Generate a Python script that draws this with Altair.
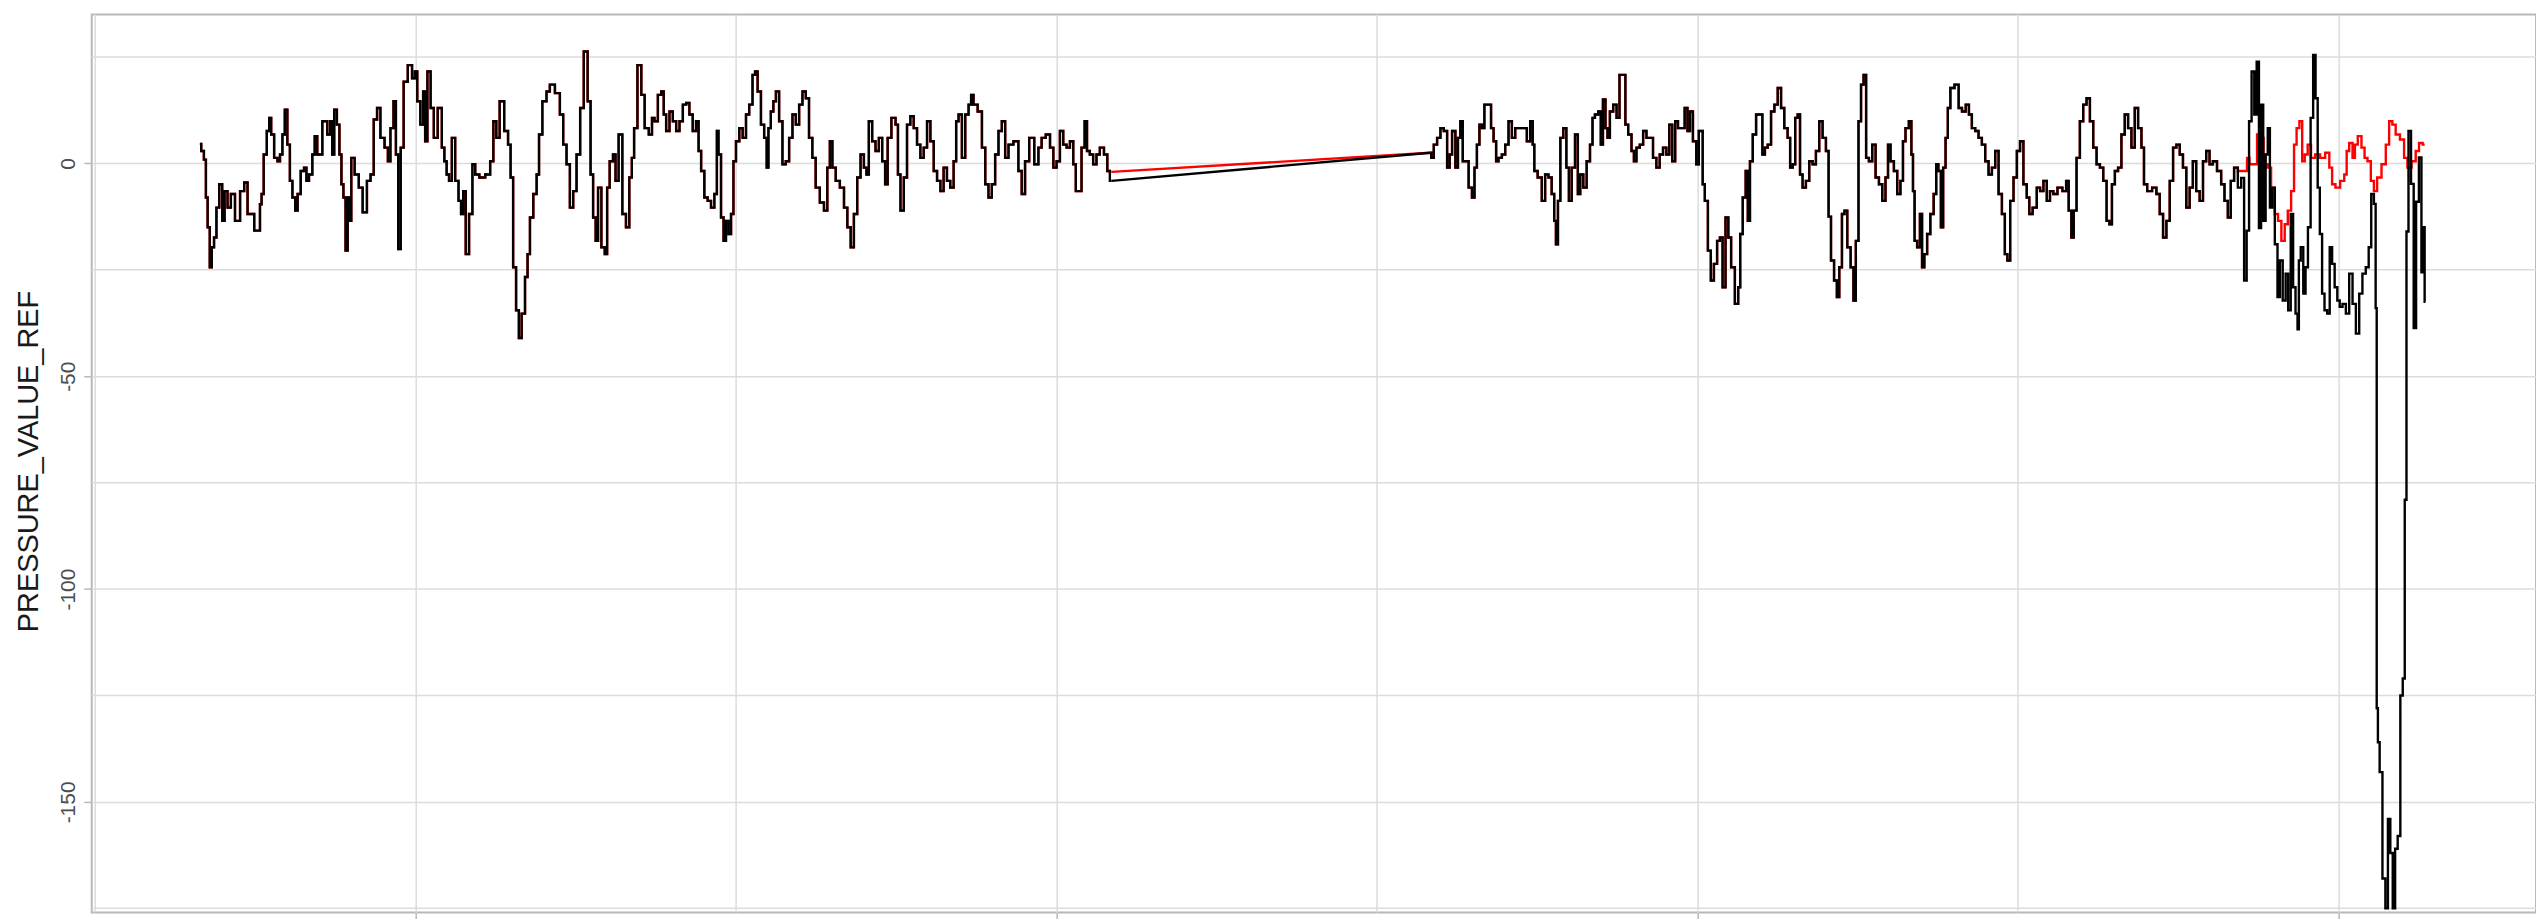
import altair as alt
import pandas as pd

# ---- data (x = hours relative to the first day tick, y = pressure) ----
a_hours = [-8.08, -7.98, -7.88, -7.83, -7.75, -7.67, -7.60, -7.50, -7.42, -7.29, -7.20, -7.11, -6.98, -6.86, -6.67,
           -6.48, -6.36, -6.23, -5.86, -5.80, -5.74, -5.64, -5.51, -5.46, -5.36, -5.24, -5.11, -5.05, -4.93, -4.87,
           -4.74, -4.68, -4.55, -4.47, -4.37, -4.24, -4.12, -4.06, -3.93, -3.81, -3.75, -3.62, -3.37, -3.25, -3.15,
           -3.10, -3.00, -2.90, -2.81, -2.75, -2.66, -2.59, -2.50, -2.44, -2.38, -2.19, -2.07, -1.90, -1.75, -1.63,
           -1.51, -1.38, -1.26, -1.07, -1.01, -0.88, -0.78, -0.70, -0.61, -0.51, -0.39, -0.20, -0.07, 0.01, 0.11,
           0.24, 0.32, 0.39, 0.49, 0.63, 0.73, 0.92, 1.04, 1.11, 1.21, 1.29, 1.42, 1.54, 1.67, 1.73,
           1.83, 1.92, 2.08, 2.17, 2.29, 2.48, 2.73, 2.85, 2.97, 3.07, 3.22, 3.41, 3.51, 3.60, 3.70,
           3.82, 3.91, 4.03, 4.16, 4.22, 4.34, 4.47, 4.59, 4.65, 4.84, 4.96, 5.09, 5.34, 5.46, 5.59,
           5.71, 5.84, 5.96, 6.09, 6.23, 6.36, 6.52, 6.58, 6.71, 6.77, 6.89, 7.02, 7.14, 7.20, 7.33,
           7.45, 7.52, 7.68, 7.80, 7.95, 8.05, 8.14, 8.22, 8.39, 8.51, 8.64,
           8.82, 8.88, 9.01, 9.13, 9.26, 9.32, 9.44, 9.57, 9.69, 9.82, 9.94, 10.07, 10.19, 10.31, 10.44,
           10.56, 10.63, 10.75, 10.87, 11.00, 11.12, 11.25, 11.31, 11.37, 11.50, 11.56, 11.68, 11.75, 11.87, 11.93,
           12.06, 12.18, 12.31, 12.43, 12.55, 12.68, 12.74, 12.87, 12.99, 13.11, 13.18, 13.24, 13.36, 13.43, 13.55,
           13.67, 13.80, 13.92, 14.05, 14.17, 14.30, 14.42, 14.55, 14.67, 14.79, 14.92, 15.04, 15.23, 15.35, 15.48,
           15.54, 15.67, 15.79, 15.98, 16.10, 16.23, 16.35, 16.47, 16.60, 16.72, 16.85, 16.91, 17.03, 17.16, 17.28,
           17.41, 17.53, 17.63, 17.72, 17.91, 18.03, 18.09, 18.22, 18.34, 18.46, 18.59, 18.71, 18.84, 18.96, 19.09,
           19.21, 19.34, 19.46, 19.59, 19.71, 19.83, 19.96, 20.08, 20.21, 20.27, 20.39, 20.52, 20.64, 20.77, 20.83,
           20.95, 21.14, 21.27, 21.39, 21.51, 21.64, 21.76, 21.89, 22.01, 22.14, 22.26, 22.51, 22.63, 22.76, 22.88,
           23.07, 23.26, 23.38, 23.50, 23.69, 23.82, 23.94, 24.06, 24.19, 24.31, 24.44, 24.56, 24.69, 24.75, 24.87,
           25.00, 25.10, 25.18, 25.31, 25.43, 25.56, 25.68, 25.87, 25.93]
a_values = [4.6, 2.9, 0.9, -8.0, -15.0, -24.4, -19.7, -17.4, -10.4, -4.9, -13.5, -6.5, -10.4, -7.2, -13.5,
            -6.5, -4.5, -11.9, -15.8, -9.6, -7.2, 2.1, 7.6, 10.7, 6.8, 1.3, 0.5, 2.1, 6.8, 12.6,
            4.4, -4.1, -8.0, -11.1, -7.2, -1.8, -1.0, -4.1, -2.6, 2.1, 6.4, 2.1, 9.9, 6.8, 9.9,
            2.1, 12.6, 9.1, 2.1, -4.9, -8.0, -20.5, -8.0, -13.5, 1.3, -2.6, -5.7, -11.5, -4.1, -2.6,
            10.3, 13.0, 6.0, 3.7, 0.5, 8.3, 14.6, 2.1, -20.1, 3.7, 19.2, 23.1, 20.0, 21.6, 14.6,
            9.1, 16.9, 5.2, 21.6, 13.0, 6.0, 13.0, 3.7, 0.5, -2.6, -4.1, 6.0, -4.1, -8.8, -11.9,
            -6.5, -21.3, -11.9, -0.2, -2.6, -3.3, -2.6, 0.5, 9.9, 6.0, 14.6, 7.6, 4.4, -3.3, -24.4,
            -34.5, -41.0, -35.3, -26.7, -21.3, -12.7, -7.2, -2.6, 6.8, 14.6, 16.9, 18.5, 16.5, 11.5, 4.4,
            -0.2, -10.4, -6.5, 2.1, 13.0, 26.3, 14.6, -2.6, -12.7, -18.2, -5.7, -19.7, -21.3, -5.7, 0.5,
            2.1, -4.1, 6.8, -11.9, -15.0, -3.3, 1.3, 8.3, 23.1, 16.1, 8.3,
            6.8, 10.7, 9.9, 16.1, 16.9, 11.5, 7.6, 12.2, 9.9, 7.6, 9.9, 13.8, 14.2, 11.5, 7.6,
            9.9, 2.9, -1.8, -8.0, -8.8, -10.4, -7.2, 7.6, 2.1, -12.7, -18.2, -13.5, -16.6, -11.9, 0.5,
            5.2, 8.3, 6.0, 11.5, 13.8, 20.8, 21.6, 16.9, 9.1, 6.0, -1.0, 8.3, 12.2, 14.6, 16.9,
            9.9, -0.2, 0.5, 6.0, 11.5, 9.1, 13.8, 16.9, 15.3, 6.0, 1.3, -5.7, -9.2, -11.1, -1.0,
            5.2, -1.0, -4.1, -5.7, -10.4, -15.0, -19.7, -11.9, -3.3, 2.1, -1.0, -2.6, 9.9, 5.2, 2.9,
            6.0, 0.5, -4.9, 6.0, 10.7, 9.1, -2.6, -11.1, -3.3, 9.1, 11.1, 8.3, 4.4, 1.3, 3.7,
            9.9, 5.2, -1.8, -4.1, -6.5, -1.0, -4.1, -5.7, 0.5, 9.9, 11.5, 1.3, 11.5, 13.8, 16.1,
            13.8, 12.2, 3.7, -4.9, -8.0, -4.9, 2.1, 7.6, 9.9, 1.3, 4.4, 5.2, -1.8, -7.2, 0.5,
            6.0, -0.2, 3.7, 6.0, 6.8, 3.7, -1.0, 0.5, 7.6, 4.4, 3.7, 5.2, -0.2, -6.5, -6.5,
            3.7, 9.9, 2.9, 2.1, -0.2, 2.1, 3.7, 2.1, -1.8]

gap_hour = 26.06
gap_black_value = -4.1
gap_red_value = -2.0

b_hours = [38.00, 38.06, 38.19, 38.31, 38.44, 38.56, 38.69, 38.75, 38.87, 39.00, 39.06, 39.18, 39.24, 39.37, 39.49,
           39.62, 39.68, 39.80, 39.87, 39.99, 40.05, 40.24, 40.30, 40.43, 40.49, 40.61, 40.74, 40.86, 40.99, 41.11,
           41.24, 41.55, 41.67, 41.80, 41.86, 41.92, 42.11, 42.23, 42.36, 42.48, 42.60, 42.67, 42.73, 42.82, 42.91,
           43.04, 43.14, 43.23, 43.35, 43.48, 43.56, 43.66, 43.79, 43.91, 44.04, 44.10, 44.22, 44.35, 44.41, 44.51,
           44.60, 44.66, 44.78, 44.91, 45.03, 45.13, 45.26, 45.34, 45.47, 45.59, 45.65, 45.78, 45.90, 46.03, 46.15,
           46.27, 46.40, 46.52, 46.65, 46.77, 46.90, 46.99, 47.12, 47.21, 47.33, 47.46, 47.58, 47.67, 47.77, 47.89,
           48.02, 48.08, 48.17, 48.22, 48.33, 48.45, 48.55, 48.68, 48.79, 48.89, 48.99, 49.11, 49.20, 49.32, 49.48,
           49.57, 49.63, 49.76, 49.85, 49.92, 50.01, 50.13, 50.26, 50.38, 50.48, 50.57, 50.69, 50.82, 50.94, 51.07,
           51.19, 51.31, 51.44, 51.50, 51.63, 51.69, 51.81, 51.87, 52.00, 52.12, 52.25, 52.37, 52.50, 52.62, 52.75,
           52.87, 52.95, 53.05, 53.18, 53.26, 53.36, 53.46, 53.55, 53.67, 53.80, 53.88, 53.98, 54.08, 54.17, 54.27,
           54.36, 54.48, 54.61, 54.73, 54.86, 54.98, 55.10, 55.17, 55.29, 55.42, 55.54, 55.66, 55.73, 55.85, 55.98,
           56.04, 56.10, 56.16, 56.29, 56.37, 56.45, 56.54, 56.66, 56.78, 56.91, 56.97, 57.07, 57.16, 57.24, 57.34,
           57.41, 57.53, 57.72, 57.84, 57.97, 58.12, 58.21, 58.34, 58.46, 58.59, 58.71, 58.84, 58.96, 59.09, 59.21,
           59.34, 59.46, 59.56, 59.65, 59.77, 59.90, 60.02, 60.14, 60.27, 60.39, 60.46, 60.64, 60.77, 60.89, 61.02,
           61.14, 61.26, 61.39, 61.57, 61.76, 61.85, 61.95, 62.05, 62.13, 62.26, 62.38, 62.51, 62.63, 62.76, 62.88,
           63.01, 63.13, 63.26, 63.38, 63.47, 63.57, 63.69, 63.81, 63.94, 64.06, 64.19, 64.31, 64.44, 64.56, 64.69,
           64.75, 64.93, 65.12, 65.25, 65.37, 65.50, 65.62, 65.75, 65.87, 66.00, 66.12, 66.24, 66.37, 66.49, 66.61,
           66.74, 66.87, 66.99, 67.11, 67.24, 67.36, 67.55, 67.67, 67.80, 67.92, 68.02, 68.17]
b_values = [2.5, 1.3, 4.4, 6.0, 8.3, 7.6, -1.0, 2.1, 7.6, -1.0, 6.0, 9.9, 0.5, 0.5, -5.7,
            -8.0, -1.0, 4.4, 9.1, 8.3, 13.8, 13.8, 8.3, 5.2, 0.5, 1.3, 2.1, 4.4, 9.9, 6.0,
            8.3, 8.3, 5.2, 9.9, 4.4, -1.8, -3.3, -8.8, -2.6, -3.3, -7.2, -13.5, -19.0, -8.8, 6.0,
            8.3, -1.0, -8.8, -1.0, 6.8, -7.2, -2.6, -5.7, 0.5, 4.4, 10.7, 11.5, 12.2, 4.4, 15.0,
            8.3, 6.0, 12.2, 13.8, 10.7, 20.8, 20.8, 9.1, 6.8, 2.9, 0.5, 3.7, 4.4, 7.6, 6.0,
            6.0, 1.3, -1.0, 2.1, 3.7, 2.1, 9.1, 0.5, 9.9, 8.3, 8.3, 13.0, 7.6, 12.2, 5.2,
            -0.2, 7.6, 7.6, -4.9, -8.8, -20.5, -27.5, -23.6, -18.2, -17.4, -29.1, -12.7, -17.4, -24.4, -33.0,
            -29.1, -16.6, -8.0, -1.8, -13.5, 0.5, 6.8, 11.5, 11.5, 2.1, 3.7, 4.4, 12.2, 13.8, 17.7,
            13.0, 8.3, 6.0, -1.0, -0.2, 10.7, 11.5, -2.6, -5.7, -4.1, 0.5, -0.2, 2.9, 9.9, 6.0,
            2.9, -12.5, -22.8, -27.5, -31.4, -24.4, -11.9, -11.1, -19.7, -24.4, -32.2, -18.2, 9.9, 18.5, 20.8,
            1.3, 0.5, 4.4, -3.3, -4.9, -8.8, -3.3, 4.4, 0.5, -1.8, -7.2, -4.1, 5.2, 8.3, 9.9,
            2.1, -6.5, -18.2, -19.7, -11.9, -24.4, -21.3, -16.6, -11.9, -7.2, -0.2, -1.8, -15.0, -1.0, 6.0,
            13.0, 17.7, 18.5, 13.0, 12.2, 13.8, 11.5, 8.3, 7.6, 6.0, 4.4, 0.5, -2.6, -1.0, 2.9,
            -7.2, -11.9, -21.3, -22.8, -8.8, -3.3, 2.9, 5.2, -4.9, -8.0, -11.9, -10.4, -5.7, -6.5, -4.1,
            -8.8, -6.5, -7.2, -5.7, -6.5, -4.1, -11.1, -17.4, -11.1, 1.3, 9.9, 13.8, 15.3, 9.9, 3.7,
            -0.2, -1.0, -4.1, -13.5, -14.3, -4.9, -1.8, -1.0, 6.8, 11.5, 8.3, 3.7, 13.0, 8.3, 3.7,
            -4.9, -6.5, -5.7, -7.2, -11.9, -17.4, -13.5, -4.1, 3.7, 4.4, 2.1, -1.0, -10.4, -5.7, 0.5,
            -6.5, -8.8, 0.5, 2.9, -0.2, 0.5, -1.8, -4.9, -8.8, -12.7, -4.1, -1.0]

black_tail_hours = [68.30, 68.42, 68.52, 68.61, 68.70, 68.80, 68.90, 68.98, 69.07, 69.14, 69.23, 69.32, 69.39, 69.48,
                    69.57, 69.67, 69.77, 69.85, 69.98, 70.07, 70.17, 70.26, 70.35, 70.44, 70.50, 70.54, 70.64, 70.73,
                    70.81, 70.91, 71.01, 71.10, 71.19, 71.26, 71.35, 71.43, 71.53, 71.63, 71.72, 71.81, 71.91, 72.01,
                    72.09, 72.22, 72.34, 72.47, 72.59, 72.72, 72.84, 72.96, 73.09, 73.18, 73.28, 73.38, 73.41, 73.46,
                    73.50, 73.59, 73.71, 73.81, 73.90, 73.99, 74.08, 74.17, 74.27, 74.37, 74.45, 74.52, 74.58, 74.67,
                    74.77, 74.87, 74.95, 75.08, 75.14, 75.20, 75.26]
black_tail_values = [-5.7, -3.4, -27.5, -15.8, 9.9, 21.6, 11.5, 23.9, -15.2, 13.8, -13.5, 2.1, 8.3, -10.4,
                     -5.7, -19.0, -31.4, -22.8, -32.2, -25.9, -34.5, -11.9, -29.1, -35.3, -39.0, -22.8, -19.7, -30.6,
                     -24.4, -15.0, 10.7, 25.5, 15.3, -5.7, -16.6, -30.6, -34.5, -35.3, -19.7, -23.6, -29.1, -32.2,
                     -33.7, -33.0, -35.3, -25.9, -33.0, -40.0, -30.6, -25.9, -24.4, -19.7, -7.2, -9.5, -34.0, -128.0,
                     -136.0, -143.0, -168.0, -175.0, -154.0, -162.0, -175.0, -161.0, -158.0, -125.0, -121.0, -79.0, -16.0, 7.6,
                     -4.8, -38.7, -9.0, 1.4, -25.6, -15.0, -32.5]

red_tail_hours = [68.30, 68.55, 68.61, 68.73, 68.86, 69.05, 69.17, 69.23, 69.29, 69.42, 69.54, 69.69, 69.79, 69.94,
                  70.04, 70.17, 70.29, 70.39, 70.48, 70.60, 70.69, 70.79, 70.91, 71.04, 71.22, 71.41, 71.60, 71.72,
                  71.81, 71.97, 72.16, 72.28, 72.34, 72.47, 72.59, 72.65, 72.80, 72.93, 73.03, 73.15, 73.28, 73.38,
                  73.52, 73.71, 73.84, 73.96, 74.08, 74.21, 74.40, 74.52, 74.65, 74.83, 74.96, 75.08, 75.23]
red_tail_values = [-1.8, -1.8, 1.3, -0.2, -0.2, 6.8, 6.0, 2.1, -0.2, -1.0, -5.7, -11.9, -13.5, -18.2,
                   -14.3, -11.1, -6.5, 4.4, 8.3, 9.9, 0.5, 2.1, 4.4, 1.3, 2.1, 1.3, 2.5, -1.0,
                   -4.9, -5.7, -4.1, -2.6, 2.9, 4.8, 1.3, 4.4, 6.4, 3.7, 1.3, 0.5, -4.1, -6.5,
                   -3.3, -0.2, 4.4, 9.9, 9.1, 6.8, 5.6, 1.3, -1.0, 0.5, 2.9, 4.8, 4.4]

y_label_values = [0, -50, -100, -150]
y_minor_grid = [25, -25, -75, -125, -175]
x_tick_hours = [0, 24, 48, 72]
x_minor_grid = [-12, 12, 36, 60]


# ---- frames ----
def series_frame(first_h, first_v, gap_v, second_h, second_v):
    # two recorded stretches of one series: before the logging gap, after it
    part1 = pd.DataFrame({"hours": first_h + [gap_hour], "value": first_v + [gap_v], "part": "before"})
    part2 = pd.DataFrame({"hours": second_h, "value": second_v, "part": "after"})
    df = pd.concat([part1, part2], ignore_index=True)
    df["order"] = range(len(df))
    return df


black_df = series_frame(a_hours, a_values, gap_black_value,
                        b_hours + black_tail_hours, b_values + black_tail_values)
red_df = series_frame(a_hours, a_values, gap_red_value,
                      b_hours + red_tail_hours, b_values + red_tail_values)

# straight joins drawn across the logging gap (last point before, first point after)
black_join = pd.DataFrame({"hours": [gap_hour, b_hours[0]], "value": [gap_black_value, b_values[0]]})
red_join = pd.DataFrame({"hours": [gap_hour, b_hours[0]], "value": [gap_red_value, b_values[0]]})

x_scale = alt.Scale(domain=[-12.13, 79.4], nice=False, zero=False)
y_scale = alt.Scale(domain=[-176, 35], nice=False, zero=False)

x_axis = alt.Axis(values=x_tick_hours, grid=True, labels=False, ticks=True, tickSize=6,
                  domain=False, title=None)
y_axis = alt.Axis(values=y_label_values, grid=True, ticks=True, tickSize=8, domain=False,
                  title="PRESSURE_VALUE_REF", titleFontSize=29, titleFontWeight="normal",
                  titleColor="#1a1a1a", titleAngle=270, titleAlign="center", titleBaseline="middle",
                  titleX=-63, titleY=448,
                  labelAngle=270, labelAlign="center", labelBaseline="alphabetic", labelPadding=9,
                  labelFontSize=21, labelColor="#4d4d4d",
                  labelExpr="datum.value < 0 ? '-' + abs(datum.value) : '' + datum.value")

X = alt.X("hours:Q", scale=x_scale, axis=x_axis)
Y = alt.Y("value:Q", scale=y_scale, axis=y_axis)

vgrid = alt.Chart(pd.DataFrame({"hours": x_minor_grid})).mark_rule(
    color="#dcdcdc", strokeWidth=1.5).encode(x=X)
hgrid = alt.Chart(pd.DataFrame({"value": y_minor_grid})).mark_rule(
    color="#dcdcdc", strokeWidth=1.5).encode(y=Y)


def line_layers(df, join_df, colour):
    steps = alt.Chart(df).mark_line(color=colour, strokeWidth=2.4, interpolate="step", clip=True).encode(
        x=X, y=Y, detail="part:N", order="order:Q")
    join = alt.Chart(join_df).mark_line(color=colour, strokeWidth=2.4, clip=True).encode(x=X, y=Y)
    return [join, steps]


layers = [vgrid, hgrid] + line_layers(red_df, red_join, "#ff0000") + line_layers(black_df, black_join, "#000000")

chart = alt.layer(*layers).properties(
    width=2452, height=901,
    autosize=alt.AutoSizeParams(type="none"),
    padding={"left": 84, "top": 5, "right": 0, "bottom": 7},
).configure_view(
    stroke="#b8b8b8", strokeWidth=2
).configure_axis(
    gridColor="#dcdcdc", gridWidth=1.5, tickColor="#b8b8b8", tickWidth=1.5,
    labelFont="Liberation Sans", titleFont="Liberation Sans"
)

chart.save("out.html", embed_options={"renderer": "svg", "actions": False})
